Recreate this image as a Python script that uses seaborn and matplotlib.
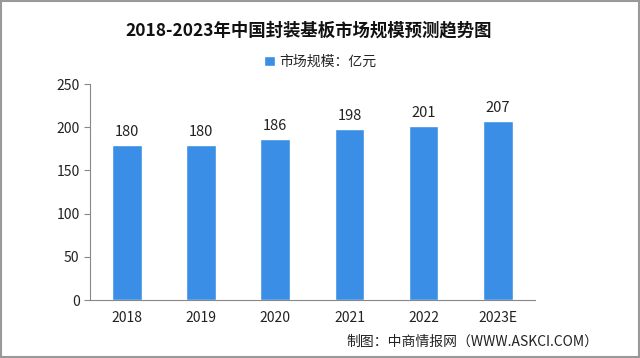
import numpy as np
import pandas as pd
import seaborn as sns
import matplotlib.pyplot as plt
from matplotlib.patches import Rectangle

years = ['2018', '2019', '2020', '2021', '2022', '2023E']
values = [180, 180, 186, 198, 201, 207]

sns.set_style('white')
plt.rcParams['font.family'] = ['Noto Sans CJK SC', 'DejaVu Sans']

df = pd.DataFrame({'year': years, 'value': values})

fig = plt.figure(figsize=(6.4, 3.58), dpi=100)
ax = fig.add_axes([0.1406, 0.162, 0.695, 0.603])

sns.barplot(data=df, x='year', y='value', color='#3A8EE6', width=0.4,
            saturation=1, ax=ax, label='市场规模：亿元')

for i, v in enumerate(values):
    ax.text(i, v + 7, str(v), ha='center', va='bottom', fontsize=10.5, color='#222222')

ax.set_ylim(0, 250)
ax.set_yticks(range(0, 251, 50))
ax.set_xlim(-0.5, 5.5)
ax.set_xlabel('')
ax.set_ylabel('')
for s in ['top', 'right']:
    ax.spines[s].set_visible(False)
for s in ['left', 'bottom']:
    ax.spines[s].set_color('#888888')
    ax.spines[s].set_linewidth(0.8)

ax.set_xticks(np.arange(-0.5, 6, 1), minor=True)
ax.tick_params(axis='x', which='major', length=0, pad=8, labelsize=10, colors='#222222')
ax.tick_params(axis='x', which='minor', length=4, color='#888888', direction='out')
ax.tick_params(axis='y', length=4, color='#888888', direction='out', labelsize=10,
               colors='#222222', left=True)

ax.legend().remove()
fig.legend(handles=ax.patches[:1], labels=['市场规模：亿元'], loc='center',
           bbox_to_anchor=(0.5, 1 - 62 / 358), frameon=False, fontsize=10,
           handlelength=0.8, handleheight=0.8, handletextpad=0.3)

fig.text(0.483, 1 - 30 / 358, '2018-2023年中国封装基板市场规模预测趋势图', ha='center',
         va='center', fontsize=12.5, fontweight='bold', color='#111111')
fig.text(0.935, 1 - 342 / 358, '制图：中商情报网（WWW.ASKCI.COM）', ha='right',
         va='center', fontsize=10, color='#222222')

fig.patches.append(Rectangle((0.002, 0.003), 0.996, 0.994, transform=fig.transFigure,
                             fill=False, edgecolor='#999999', linewidth=1.5))

fig.savefig('out.png', dpi=100)
